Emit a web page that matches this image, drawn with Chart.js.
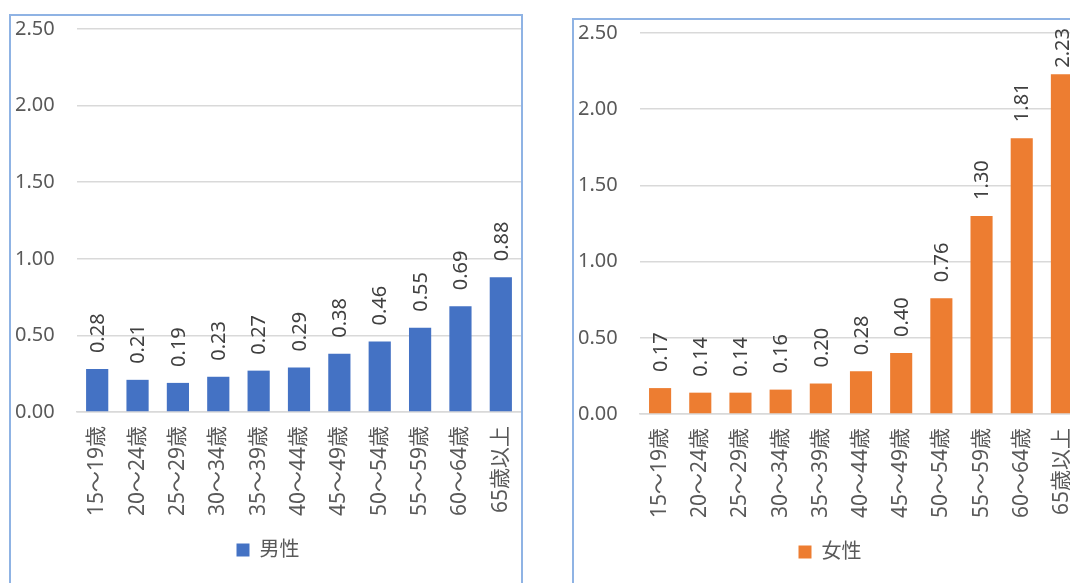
<!DOCTYPE html>
<html>
<head>
<meta charset="utf-8">
<script src="https://cdn.jsdelivr.net/npm/chart.js@4.4.1/dist/chart.umd.min.js"></script>
<style>
  html, body { margin: 0; padding: 0; background: #fff; overflow: hidden; width: 1070px; height: 583px; }
  .box { position: absolute; border: 2px solid #8fb3e4; background: #fff; }
  #boxM { left: 9px; top: 14px; width: 510px; height: 600px; }
  #boxF { left: 572px; top: 18px; width: 508px; height: 600px; }
  canvas { display: block; }
</style>
</head>
<body>
<div class="box" id="boxM"><canvas id="male" width="510" height="567"></canvas></div>
<div class="box" id="boxF"><canvas id="female" width="508" height="563"></canvas></div>
<script>
var ageGroups = ["15～19歳", "20～24歳", "25～29歳", "30～34歳", "35～39歳", "40～44歳",
  "45～49歳", "50～54歳", "55～59歳", "60～64歳", "65歳以上"];
var maleValues = [0.28, 0.21, 0.19, 0.23, 0.27, 0.29, 0.38, 0.46, 0.55, 0.69, 0.88];
var femaleValues = [0.17, 0.14, 0.14, 0.16, 0.20, 0.28, 0.40, 0.76, 1.30, 1.81, 2.23];
var yTicks = [0, 0.5, 1, 1.5, 2, 2.5];

var FONT = '"Noto Sans", "Noto Sans CJK JP", sans-serif';

// value labels drawn vertically above each bar, kept inside the chart box
var barLabels = {
  id: "barLabels",
  afterDatasetsDraw: function (chart) {
    var ctx = chart.ctx,
      meta = chart.getDatasetMeta(0),
      vals = chart.data.datasets[0].data;
    ctx.save();
    ctx.font = "20px " + FONT;
    ctx.fillStyle = "#404040";
    ctx.textAlign = "left";
    ctx.textBaseline = "middle";
    meta.data.forEach(function (bar, i) {
      var txt = vals[i].toFixed(2),
        w = ctx.measureText(txt).width,
        y = Math.max(bar.y - 16, w + 8);
      ctx.save();
      ctx.translate(bar.x + 1, y);
      ctx.rotate(-Math.PI / 2);
      ctx.fillText(txt, 0, 0);
      ctx.restore();
    });
    ctx.restore();
  },
};

function noPad(s) {
  s.paddingLeft = s.paddingRight = s.paddingTop = s.paddingBottom = 0;
}

function makeChart(id, label, values, color, padBottom) {
  var ctx = document.getElementById(id).getContext("2d");
  return new Chart(ctx, {
    type: "bar",
    data: {
      labels: ageGroups,
      datasets: [
        {
          label: label,
          data: values,
          backgroundColor: color,
          borderWidth: 0,
          categoryPercentage: 1,
          barPercentage: 0.55,
        },
      ],
    },
    options: {
      responsive: !1,
      animation: !1,
      layout: { padding: { left: 4, top: 13, right: 0, bottom: padBottom } },
      plugins: {
        tooltip: { enabled: !1 },
        legend: {
          position: "bottom",
          labels: {
            boxWidth: 13,
            boxHeight: 13,
            color: "#595959",
            font: { family: FONT, size: 20 },
          },
        },
      },
      scales: {
        x: {
          grid: { display: !1 },
          border: { color: "#d9d9d9", width: 1.5 },
          ticks: {
            autoSkip: !1,
            maxRotation: 90,
            minRotation: 90,
            padding: 6,
            color: "#595959",
            font: { family: FONT, size: 21 },
          },
          afterFit: function (s) { s.height = 118; noPad(s); },
        },
        y: {
          min: 0,
          max: 2.5,
          afterBuildTicks: function (s) {
            s.ticks = yTicks.map(function (v) { return { value: v }; });
          },
          grid: { color: "#d9d9d9", lineWidth: 1.5, drawTicks: !1 },
          border: { display: !1 },
          ticks: {
            crossAlign: "far",
            color: "#595959",
            font: { family: FONT, size: 20 },
            callback: function (v) { return Number(v).toFixed(2); },
          },
          afterFit: function (s) { s.width = 62; noPad(s); },
        },
      },
    },
    plugins: [barLabels],
  });
}

makeChart("male", "男性", maleValues, "#4472c4", 13);
makeChart("female", "女性", femaleValues, "#ed7d31", 11);
</script>
</body>
</html>
